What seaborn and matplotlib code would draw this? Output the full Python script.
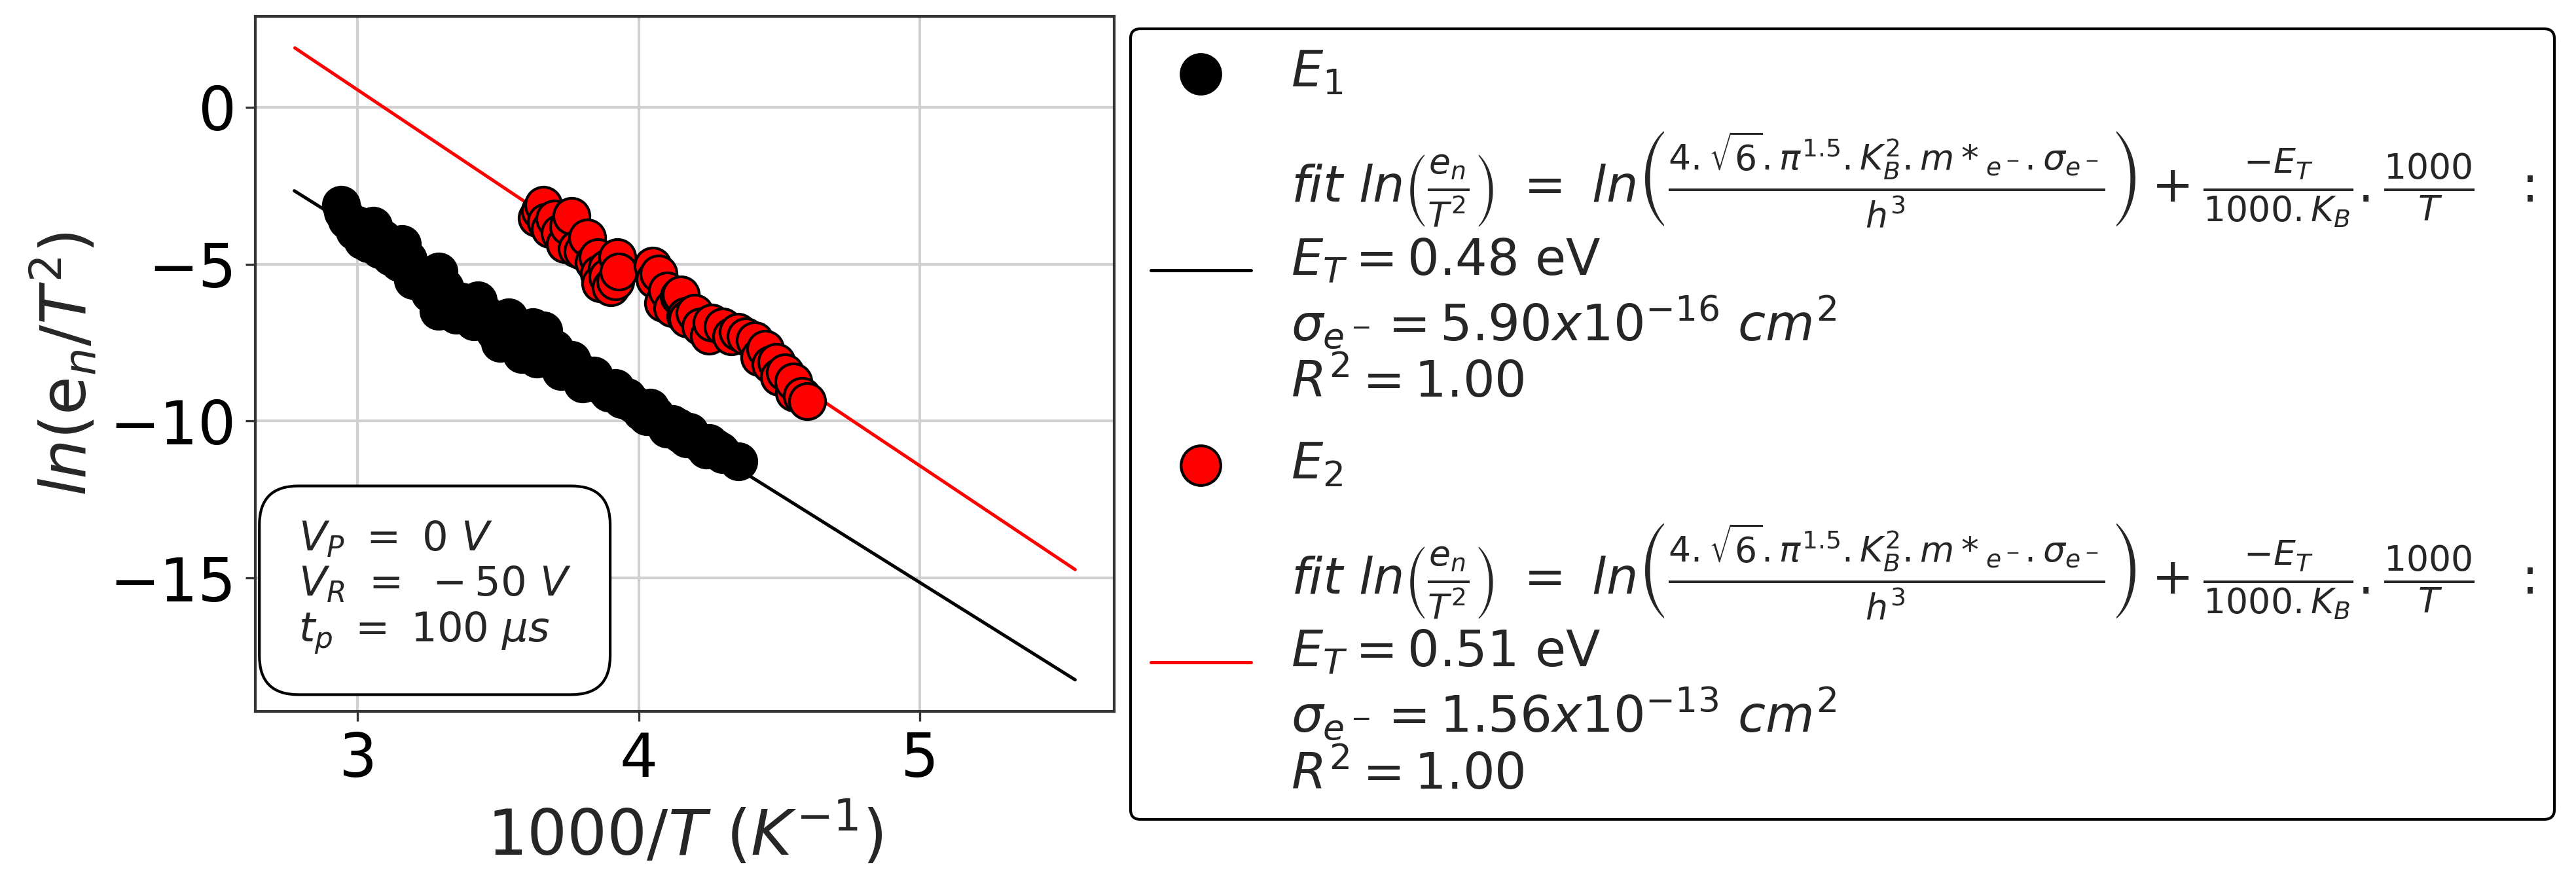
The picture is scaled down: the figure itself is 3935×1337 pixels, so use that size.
import matplotlib
matplotlib.use("Agg")
import matplotlib.pyplot as plt
import seaborn as sns
import numpy as np
import pandas as pd

# ---------------- data ----------------
e1_x = [2.941, 2.950, 2.964, 2.990, 3.000, 3.018, 3.030, 3.040, 3.057, 3.080,
        3.090, 3.110, 3.120, 3.150, 3.158, 3.180, 3.197, 3.220, 3.240, 3.259,
        3.270, 3.290, 3.290, 3.310, 3.330, 3.352, 3.370, 3.390, 3.414, 3.429,
        3.450, 3.470, 3.490, 3.507, 3.520, 3.538, 3.560, 3.584, 3.600, 3.623,
        3.638, 3.650, 3.662, 3.680, 3.700, 3.724, 3.740, 3.762, 3.780, 3.801,
        3.820, 3.840, 3.860, 3.880, 3.894, 3.917, 3.940, 3.960, 3.980, 4.010,
        4.030, 4.041, 4.060, 4.088, 4.100, 4.120, 4.140, 4.150, 4.170, 4.181,
        4.200, 4.227, 4.240, 4.250, 4.270, 4.290, 4.300, 4.355]
e1_y = [-3.12, -3.35, -3.60, -3.95, -3.75, -4.23, -3.95, -4.35, -3.78, -4.53,
        -4.20, -4.40, -4.75, -4.95, -4.37, -4.85, -5.51, -5.30, -5.55, -5.92,
        -5.65, -5.24, -6.48, -5.75, -6.25, -6.62, -6.20, -6.45, -6.83, -6.15,
        -6.55, -6.90, -7.15, -7.52, -7.25, -6.70, -7.35, -7.87, -7.55, -7.01,
        -8.01, -7.60, -7.12, -7.85, -7.70, -8.40, -8.15, -8.05, -8.35, -8.81,
        -8.70, -8.55, -8.80, -8.95, -9.09, -8.95, -9.30, -9.25, -9.45, -9.71,
        -9.85, -9.58, -9.80, -10.06, -10.25, -10.10, -10.20, -10.41, -10.55, -10.34,
        -10.60, -10.76, -10.90, -10.70, -10.85, -10.96, -11.05, -11.28]

e2_x = [3.638, 3.650, 3.662, 3.670, 3.685, 3.700, 3.720, 3.739, 3.750, 3.762,
        3.780, 3.800, 3.817, 3.840, 3.855, 3.860, 3.863, 3.887, 3.890, 3.900,
        3.917, 3.925, 3.930, 4.049, 4.057, 4.070, 4.088, 4.100, 4.120, 4.142,
        4.150, 4.166, 4.173, 4.200, 4.220, 4.251, 4.259, 4.300, 4.330, 4.352,
        4.380, 4.413, 4.429, 4.450, 4.470, 4.491, 4.499, 4.520, 4.553, 4.550,
        4.580, 4.600]
e2_y = [-3.53, -3.30, -3.12, -3.65, -3.88, -3.55, -4.00, -4.37, -3.80, -3.46,
        -4.50, -4.60, -4.16, -4.95, -4.78, -5.30, -5.62, -5.13, -5.40, -5.75,
        -5.55, -4.78, -5.25, -5.06, -5.48, -5.30, -6.24, -5.85, -6.40, -6.03,
        -5.96, -6.66, -6.73, -6.55, -7.00, -7.28, -6.87, -7.00, -7.30, -7.15,
        -7.30, -7.42, -7.98, -7.70, -8.20, -8.12, -8.60, -8.45, -9.09, -8.75,
        -9.20, -9.37]

fit1_x = [2.776, 5.552]
fit1_y = [-2.667, -18.24]
fit2_x = [2.778, 5.552]
fit2_y = [1.883, -14.73]

ET = ["0.48", "0.51"]
SIGMA = [("5.90", "-16"), ("1.56", "-13")]
R2 = ["1.00", "1.00"]
series_names = [r"$E_1$", r"$E_2$"]
xticks = [3, 4, 5]
yticks = [0, -5, -10, -15]

# ---------------- style ----------------
sns.set_style("whitegrid")
plt.rcParams.update({
    "axes.edgecolor": "#333333",
    "axes.linewidth": 1.0,
    "grid.color": "#d0d0d0",
    "grid.linewidth": 1.0,
    "xtick.bottom": True,
    "ytick.left": True,
    "xtick.major.size": 3.5,
    "ytick.major.size": 3.5,
    "xtick.color": "#333333",
    "ytick.color": "#333333",
    "xtick.labelcolor": "black",
    "ytick.labelcolor": "black",
    "mathtext.fontset": "dejavusans",
})
plt.rcParams["font.family"] = ["DejaVu Sans"]

fig = plt.figure(figsize=(3936 / 300, 1337 / 300), dpi=300)
ax = fig.add_axes([390 / 3936, 1 - 1087 / 1337, (1702 - 390) / 3936, (1087 - 25) / 1337])

formula = (r"$fit\ ln\left(\frac{e_n}{T^2}\right)\ =\ "
           r"ln\left(\frac{4.\sqrt{6}.\pi^{1.5}.K_B^2.m*_{e^-}.\sigma_{e^-}}{h^3}\right)"
           r" + \frac{-E_T}{1000.K_B}.\frac{1000}{T}\ \ :$")

def fit_label(i):
    return (formula + "\n" +
            r"$E_T = " + ET[i] + r"\ \mathrm{eV}$" + "\n" +
            r"$\sigma_{e^-} = " + SIGMA[i][0] + r"x10^{" + SIGMA[i][1] + r"}\ cm^2$" + "\n" +
            r"$R^2 = " + R2[i] + r"$")

df1 = pd.DataFrame({"x": e1_x, "y": e1_y})
df2 = pd.DataFrame({"x": e2_x, "y": e2_y})
f1 = pd.DataFrame({"x": fit1_x, "y": fit1_y})
f2 = pd.DataFrame({"x": fit2_x, "y": fit2_y})

sns.scatterplot(data=df1, x="x", y="y", ax=ax, color="black", edgecolor="black",
                s=175, linewidth=1.0, label=series_names[0], zorder=3)
sns.lineplot(data=f1, x="x", y="y", ax=ax, color="black", linewidth=1.2,
             sort=False, label=fit_label(0), zorder=2)
sns.scatterplot(data=df2, x="x", y="y", ax=ax, color="red", edgecolor="black",
                s=175, linewidth=1.0, label=series_names[1], zorder=3)
sns.lineplot(data=f2, x="x", y="y", ax=ax, color="red", linewidth=1.2,
             sort=False, label=fit_label(1), zorder=2)

ax.set_xticks(xticks)
ax.set_yticks(yticks)
ax.tick_params(labelsize=22)
ax.set_xlabel(r"1000/$T$ $(K^{-1})$", fontsize=23)
ax.set_ylabel(r"$ln(\mathrm{e}_n/T^2)$", fontsize=23)
ax.grid(True)
ax.set_axisbelow(True)

ax.text(0.05, 0.08, "$V_P\\ =\\ 0\\ V$\n$V_R\\ =\\ -50\\ V$\n$t_p\\ =\\ 100\\ \\mu s$",
        transform=ax.transAxes, ha="left", va="bottom", fontsize=15,
        bbox=dict(boxstyle="round,pad=0.95", fc="white", ec="black", lw=1.0))

handles, labels = ax.get_legend_handles_labels()
leg = ax.legend(handles, labels, loc="upper left", bbox_to_anchor=(1.019, 0.982),
                borderaxespad=0, fontsize=18.4, frameon=True, fancybox=True,
                framealpha=1, edgecolor="black", markerscale=1.1, labelspacing=0.65)
leg.get_frame().set_linewidth(1.0)

fig.savefig("out.png", dpi=300)
